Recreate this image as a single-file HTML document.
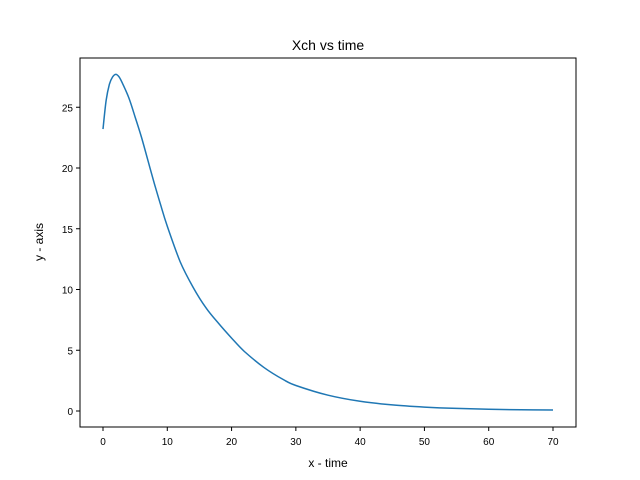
<!DOCTYPE html>
<html><head><meta charset="utf-8"><style>body{margin:0;background:#fff}svg{display:block;font-family:"Liberation Sans","DejaVu Sans",sans-serif}</style></head>
<body>
<svg id="chart" width="640" height="480">
<rect x="0" y="0" width="640" height="480" fill="#fff"/>
<text x="328" y="50" text-anchor="middle" font-size="14">Xch vs time</text>
<text x="328" y="467" text-anchor="middle" font-size="12">x - time</text>
<text transform="translate(43,242) rotate(-90)" text-anchor="middle" font-size="12">y - axis</text>
<g id="ticks"></g>
<path id="line" fill="none" stroke="#1f77b4" stroke-width="1.5"/>
<rect x="80" y="58" width="496" height="369" fill="none" stroke="#000" stroke-width="1"/>
</svg>
<script>
const times=[0,0.5,1,1.5,2,2.5,3,4,5,6,7,8,9,10,12,14,16,18,20,22,25,28,30,35,40,45,50,55,60,65,70];
const values=[23.2,25.6,26.9,27.5,27.7,27.5,27.0,25.8,24.2,22.5,20.6,18.7,16.9,15.2,12.3,10.2,8.5,7.2,6.0,4.9,3.6,2.6,2.1,1.3,0.8,0.5,0.32,0.21,0.14,0.1,0.08];
const xTicks=[0,10,20,30,40,50,60,70];
const yTicks=[0,5,10,15,20,25];
const xs=t=>103+t*(450/70);
const ys=v=>411-v*12.15;
const ns="http://www.w3.org/2000/svg";
const g=document.getElementById('ticks');
function mk(tag,attrs){const e=document.createElementNS(ns,tag);for(const k in attrs)e.setAttribute(k,attrs[k]);g.appendChild(e);return e;}
xTicks.forEach(t=>{
 const l=mk('line',{x1:xs(t),x2:xs(t),y1:427,y2:431,stroke:'#000'});
 
 
 const tx=mk('text',{x:xs(t),y:445,'text-anchor':'middle','font-size':'10'});tx.textContent=t;
 
 
});
yTicks.forEach(v=>{
 const l=mk('line',{x1:76,x2:80,y1:ys(v),y2:ys(v),stroke:'#000'});
 
 
 const tx=mk('text',{x:73,y:ys(v)+4,'text-anchor':'end','font-size':'10'});tx.textContent=v;
 
 
});
// Catmull-Rom smoothing through data points
const P=times.map((t,i)=>[xs(t),ys(values[i])]);
let d='M'+P[0][0].toFixed(1)+','+P[0][1].toFixed(1);
for(let i=0;i<P.length-1;i++){
 const p0=P[i-1]||P[i],p1=P[i],p2=P[i+1],p3=P[i+2]||P[i+1];
 const c1=[p1[0]+(p2[0]-p0[0])/6,p1[1]+(p2[1]-p0[1])/6];
 const c2=[p2[0]-(p3[0]-p1[0])/6,p2[1]-(p3[1]-p1[1])/6];
 d+='C'+c1.map(v=>v.toFixed(1)).join(',')+' '+c2.map(v=>v.toFixed(1)).join(',')+' '+p2.map(v=>v.toFixed(1)).join(',');
}
document.getElementById('line').setAttribute('d',d);
</script>
</body></html>
